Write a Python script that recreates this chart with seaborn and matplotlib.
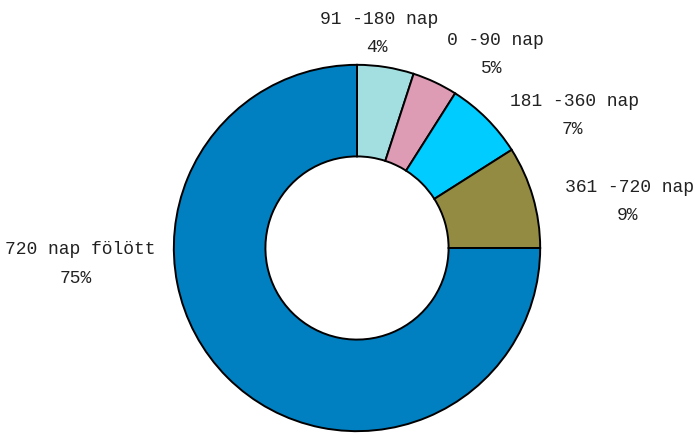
import matplotlib
matplotlib.use("Agg")
import matplotlib.pyplot as plt
import seaborn as sns

# Slices clockwise from the top
categories = ["91 -180 nap", "0 -90 nap", "181 -360 nap", "361 -720 nap", "720 nap fölött"]
shares = [5, 4, 7, 9, 75]
pct_labels = ["4%", "5%", "7%", "9%", "75%"]
colors = ["#A3DFE1", "#DD9BB4", "#00CCFF", "#948B43", "#0080C0"]

sns.set_theme(style="white")
plt.rcParams["font.family"] = ["Liberation Mono", "DejaVu Sans"]

fig = plt.figure(figsize=(6.99, 4.34), dpi=100)
cx, cy, r = 357, 248, 185
ax = fig.add_axes([(cx - r) / 699, (434 - cy - r) / 434, 2 * r / 699, 2 * r / 434])

ax.pie(shares, colors=colors, startangle=90, counterclock=False, radius=1.0,
       wedgeprops=dict(width=0.5, edgecolor="black", linewidth=1.4))
ax.set_xlim(-1.01, 1.01)
ax.set_ylim(-1.01, 1.01)
ax.set_aspect("equal")
ax.axis("off")

# label centres in pixels (name line, percent line)
label_px = [(379, 17, 377, 45), (497, 38, 493, 67), (577, 100, 575, 128),
            (632, 187, 630, 215), (77, 250, 73, 279)]
for name, pct, (nx, ny, px, py) in zip(categories, pct_labels, label_px):
    ax.text((nx - cx) / r, (cy - ny) / r, name, ha="center", va="center",
            fontsize=13, color="#222222", clip_on=False)
    ax.text((px - cx) / r, (cy - py) / r, pct, ha="center", va="center",
            fontsize=13, color="#222222", clip_on=False)

fig.savefig("out.png", dpi=100, facecolor="white")
